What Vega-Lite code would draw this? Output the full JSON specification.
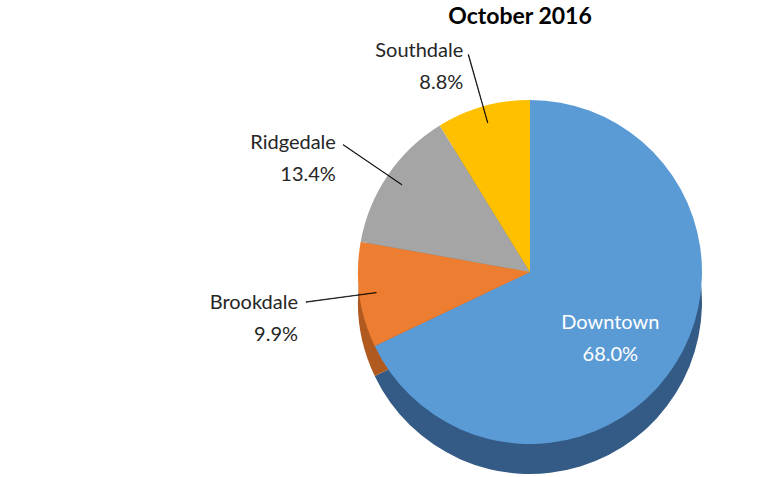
{
  "$schema": "https://vega.github.io/schema/vega-lite/v6.json",
  "width": 500,
  "height": 430,
  "autosize": "none",
  "padding": {"left": 280, "top": 57, "right": 3, "bottom": 0},
  "background": "white",
  "title": {"text": "October 2016", "font": "Lato", "fontSize": 23, "fontWeight": "bold", "color": "#000000", "anchor": "middle", "frame": "group", "offset": 12, "dx": -10},
  "data": {
    "values": [
      {"region": "Downtown", "pct": 68.0, "order": 1, "label": "Downtown\n68.0%"},
      {"region": "Brookdale", "pct": 9.9, "order": 2, "label": "Brookdale\n9.9%"},
      {"region": "Ridgedale", "pct": 13.4, "order": 3, "label": "Ridgedale\n13.4%"},
      {"region": "Southdale", "pct": 8.8, "order": 4, "label": "Southdale\n8.8%"}
    ]
  },
  "transform": [
    {"window": [{"op": "sum", "field": "pct", "as": "cum"}], "sort": [{"field": "order"}], "frame": [null, 0]},
    {"calculate": "datum.cum - datum.pct", "as": "start"},
    {"calculate": "datum.cum - datum.pct / 2", "as": "mid"},
    {"calculate": "datum.mid - 0.02", "as": "l1"},
    {"calculate": "datum.mid + 0.02", "as": "l2"}
  ],
  "layer": [
    {
      "mark": {"type": "arc", "outerRadius": 172, "yOffset": 30},
      "encoding": {
        "theta": {"field": "start", "type": "quantitative", "stack": null, "scale": {"domain": [0, 100.1]}},
        "theta2": {"field": "cum"},
        "color": {"field": "region", "type": "nominal", "legend": null,
          "scale": {"domain": ["Downtown", "Brookdale", "Ridgedale", "Southdale"], "range": ["#345B86", "#B05A1F", "#7A7A7A", "#C09000"]}}
      }
    },
    {
      "mark": {"type": "arc", "outerRadius": 172},
      "encoding": {
        "theta": {"field": "start", "type": "quantitative", "stack": null, "scale": {"domain": [0, 100.1]}},
        "theta2": {"field": "cum"},
        "fill": {"field": "region", "type": "nominal", "legend": null,
          "scale": {"domain": ["Downtown", "Brookdale", "Ridgedale", "Southdale"], "range": ["#5B9BD5", "#ED7D31", "#A5A5A5", "#FFC000"]}}
      }
    },
    {
      "transform": [{"filter": "datum.region !== 'Downtown'"}],
      "mark": {"type": "arc", "innerRadius": 155, "outerRadius": 226, "fill": "#000000", "stroke": "#000000", "strokeWidth": 0.6},
      "encoding": {
        "theta": {"field": "l1", "type": "quantitative", "stack": null, "scale": {"domain": [0, 100.1]}},
        "theta2": {"field": "l2"}
      }
    },
    {
      "transform": [{"filter": "datum.region !== 'Downtown'"}],
      "mark": {"type": "text", "radius": 230, "align": "right", "baseline": "middle", "lineBreak": "\n", "font": "Lato", "fontSize": 20, "lineHeight": 32, "color": "#262626", "dx": -4},
      "encoding": {
        "theta": {"field": "mid", "type": "quantitative", "stack": null, "scale": {"domain": [0, 100.1]}},
        "text": {"field": "label"}
      }
    },
    {
      "transform": [{"filter": "datum.region === 'Downtown'"}],
      "mark": {"type": "text", "radius": 95, "align": "center", "baseline": "middle", "lineBreak": "\n", "font": "Lato", "fontSize": 20, "lineHeight": 32, "color": "#FFFFFF"},
      "encoding": {
        "theta": {"field": "mid", "type": "quantitative", "stack": null, "scale": {"domain": [0, 100.1]}},
        "text": {"field": "label"}
      }
    }
  ],
  "resolve": {"scale": {"color": "independent", "fill": "independent"}}
}
